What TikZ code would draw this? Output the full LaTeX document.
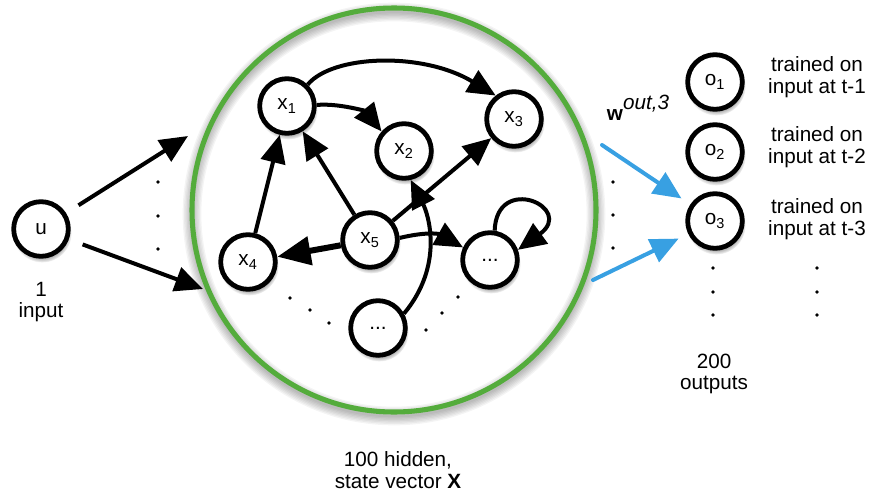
\documentclass[tikz,border=0pt]{standalone}
\usepackage{fontspec}
\setmainfont{Liberation Sans}
\usepackage{tikz}
\usetikzlibrary{arrows.meta, shadows}

\definecolor{vert}{RGB}{84,172,60}
\definecolor{bleu}{RGB}{56,160,226}

\tikzset{
  neurone/.style={circle, draw, line width=3.6pt, fill=white, minimum size=41pt, inner sep=0pt,
    circular drop shadow={shadow xshift=0.8pt, shadow yshift=-2.8pt, shadow scale=1.08, opacity=0.6}},
  fleche/.style={line width=3pt, -{Triangle[length=21pt,width=18.5pt]}},
  grosse/.style={line width=4.5pt, -{Triangle[length=25pt,width=21pt]}},
  sortie/.style={line width=3pt, bleu, line cap=round, -{Triangle[length=21pt,width=18.5pt]}},
  texte/.style={align=center, inner sep=0pt},
  point/.style={radius=1.4pt}
}

\begin{document}
\begin{tikzpicture}[x=0.75pt, y=-0.75pt, font=\fontsize{15.5}{16}\selectfont]
    \useasboundingbox (0,0) rectangle (870,492);

    % Le réservoir (cercle vert) et son ombre
    \coordinate (rc) at (394,210);
    \foreach \w in {2,4,...,14}
        \draw[black, opacity=0.045, line width=\w pt] ([yshift=-3pt]rc) circle (151.5pt);
    \node[circle, draw=vert, line width=3.8pt, minimum size=303pt, inner sep=0pt] (res) at (rc) {};
    \node[texte] (hid) at (398,470) {100 hidden,\\state vector \textbf{X}};

    % Entrée u
    \node[neurone] (u) at (41,229) {u};
    \node[texte] (nin) at (41,302) {1\\input};
    \coordinate (ia) at (188,136);
    \coordinate (ib) at (203,289);
    \draw[fleche, shorten <=11pt] (u) -- (ia);
    \draw[fleche, shorten <=11pt] (u) -- (ib);
    \foreach \y in {182,216,249}
        \fill (158,\y) circle[point];

    % Les neurones cachés
    \node[neurone] (x1) at (287,106) {x\textsubscript{1}};
    \node[neurone] (x2) at (404,151) {x\textsubscript{2}};
    \node[neurone] (x3) at (514,119) {x\textsubscript{3}};
    \node[neurone] (x4) at (248,262) {x\textsubscript{4}};
    \node[neurone] (x5) at (370,240) {x\textsubscript{5}};
    \node[neurone] (xr) at (490,260) {...};
    \node[neurone] (xb) at (378,328) {...};

    % Connexions internes
    \draw[fleche] (x1.46) .. controls +(25,-30) and +(-73,-44) .. (x3.128);
    \draw[fleche] (x1.2) .. controls +(22,-2) and +(-16,-20) .. (x2.139);
    \draw[fleche] (x4) -- (x1);
    \draw[fleche] (x5) -- (x1);
    \draw[fleche] (x5) -- (x3);
    \draw[grosse] (x5) -- (x4);
    \draw[fleche] (x5.4) .. controls +(25,-6) and +(-25,-14) .. (xr.155);
    \draw[fleche] (xb.29) .. controls +(40,-48) and +(18,35) .. (x2.283);
    \draw[fleche] (xr.81) .. controls +(2,-58) and +(58,-42) .. (xr.20);
    \foreach \x/\y in {290/298, 310/310, 329/323, 458/297, 442/313, 426/330}
        \fill (\x,\y) circle[point];

    % Les sorties
    \node[neurone] (o1) at (715,82) {o\textsubscript{1}};
    \node[neurone] (o2) at (715,152) {o\textsubscript{2}};
    \node[neurone] (o3) at (715,221) {o\textsubscript{3}};
    \node[texte] (t1) at (817,77) {trained on\\input at t-1};
    \node[texte] (t2) at (817,147) {trained on\\input at t-2};
    \node[texte] (t3) at (817,219) {trained on\\input at t-3};
    \node[texte] (nout) at (714,374) {200\\outputs};
    \foreach \y in {268,292,315} {
        \fill (713,\y) circle[point];
        \fill (817,\y) circle[point];
    }

    % Poids de sortie w
    \node[texte] (w) at (638,108) {\textbf{w}\raisebox{0.55em}{\itshape out,3}};
    \coordinate (wa) at (602,145);
    \coordinate (wb) at (593,280);
    \draw[sortie, shorten >=8pt] (wa) -- (o3);
    \draw[sortie, shorten >=8pt] (wb) -- (o3);
    \foreach \y in {182,215,248}
        \fill (613,\y) circle[point];
\end{tikzpicture}
\end{document}
